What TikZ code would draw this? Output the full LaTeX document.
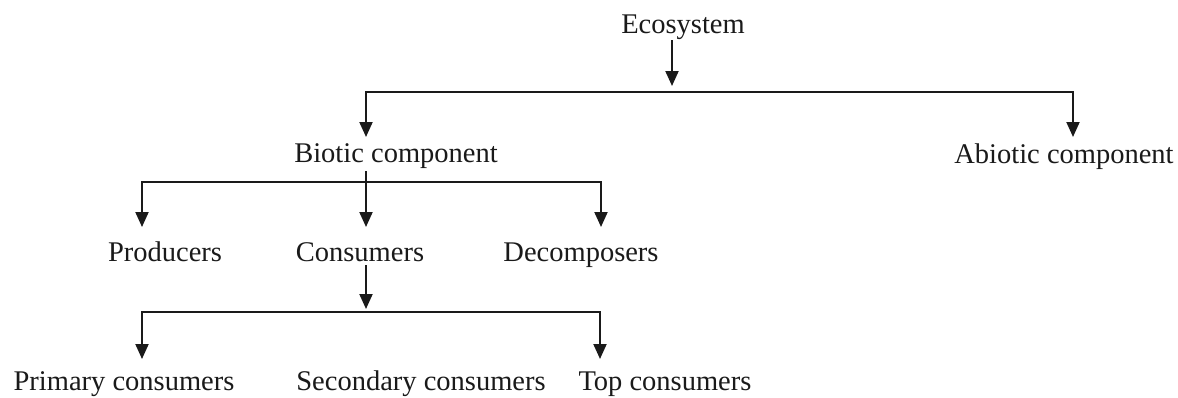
\documentclass[tikz,border=0pt]{standalone}
\usepackage{fontspec}
\setmainfont{Liberation Serif}
\usetikzlibrary{arrows.meta}
\definecolor{ink}{HTML}{1A1A1A}
\begin{document}
\begin{tikzpicture}[x=1pt,y=-1pt,
  lbl/.style={anchor=base, inner sep=0pt, text=ink, font=\fontsize{28.5}{34}\selectfont},
  wire/.style={line width=2pt, draw=ink},
  arr/.style={wire, -{Triangle[width=13pt,length=15pt]}}]
\useasboundingbox[fill=white] (0,0) rectangle (1178,397);
% nodes
\node[lbl] (eco)   at (683,33)  {Ecosystem};
\node[lbl] (bio)   at (396,162) {Biotic component};
\node[lbl] (abio)  at (1064,163) {Abiotic component};
\node[lbl] (prod)  at (165,261) {Producers};
\node[lbl] (cons)  at (360,261) {Consumers};
\node[lbl] (dec)   at (581,261) {Decomposers};
\node[lbl] (prim)  at (124,390) {Primary consumers};
\node[lbl] (sec)   at (421,390) {Secondary consumers};
\node[lbl] (top)   at (665,390) {Top consumers};
% junctions and arrow tips
\coordinate (ecoTip) at (672,86);
\coordinate (j1) at (672,92);
\coordinate (bioTip) at (366,137);
\coordinate (abioTip) at (1073,137);
\coordinate (j2) at (366,182);
\coordinate (prodTip) at (142,227);
\coordinate (consTip) at (366,227);
\coordinate (decTip) at (601,227);
\coordinate (consArr) at (366,309);
\coordinate (j3) at (366,312);
\coordinate (primTip) at (142,359);
\coordinate (topTip) at (600,359);
% connectors
\draw[arr] ([yshift=-1pt]eco.south -| ecoTip) -- (ecoTip);
\draw[arr] (j1) -| (bioTip);
\draw[arr] (j1) -| (abioTip);
\draw[wire] ([yshift=-3pt]bio.south -| j2) -- (j2);
\draw[arr] (j2) -| (prodTip);
\draw[arr] (j2) -- (consTip);
\draw[arr] (j2) -| (decTip);
\draw[arr] ([yshift=-4pt]cons.south -| consArr) -- (consArr);
\draw[arr] (j3) -| (primTip);
\draw[arr] (j3) -| (topTip);
\end{tikzpicture}
\end{document}
